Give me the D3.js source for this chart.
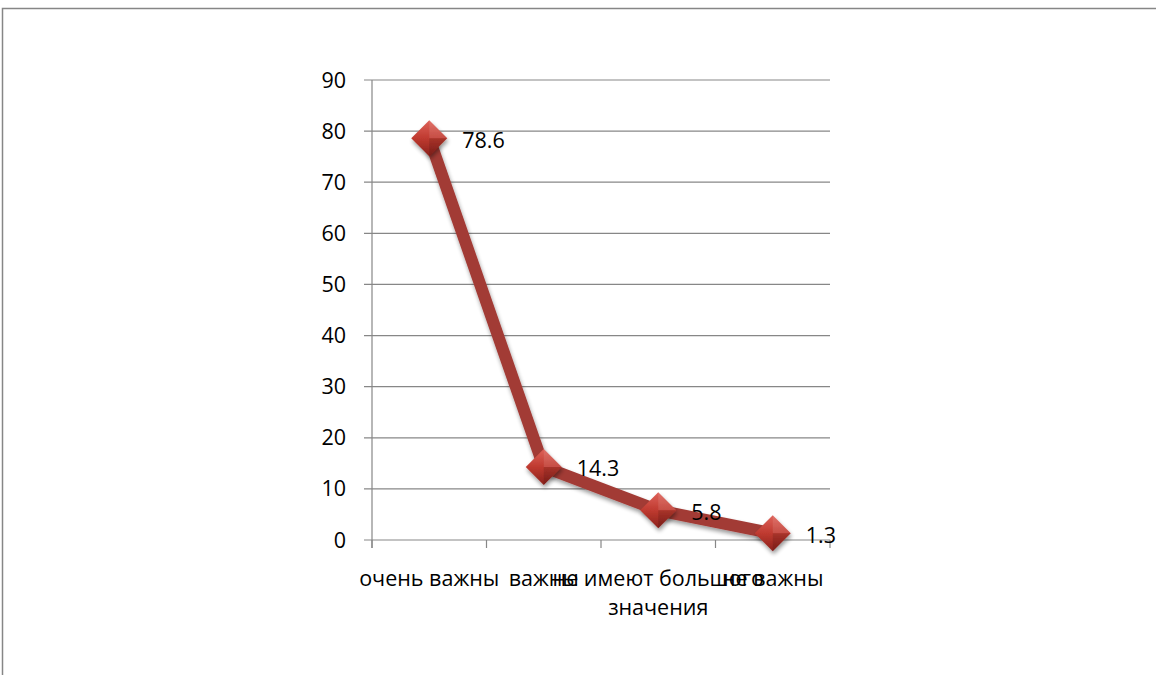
<!DOCTYPE html>
<html><head><meta charset="utf-8">
<script src="https://cdn.jsdelivr.net/npm/d3@7"></script>
<style>body{margin:0;background:#fff;}svg{display:block;}</style>
</head><body>
<script>
const categories = ["очень важны", "важны", "не имеют большого значения", "не важны"];
const values = [78.6, 14.3, 5.8, 1.3];
const yTicks = [0, 10, 20, 30, 40, 50, 60, 70, 80, 90];
const categoryLines = [["очень важны"], ["важны"], ["не имеют большого", "значения"], ["не важны"]];

(function () {
const W = 1156, H = 675;
const svg = d3.select("body").append("svg").attr("width", W).attr("height", H);
const font = "'Open Sans', 'Noto Sans', sans-serif";
const fs = 21.5;

// outer frame
svg.append("rect").attr("x", 2.5).attr("y", 8.5).attr("width", 1170).attr("height", 700)
  .attr("fill", "#fff").attr("stroke", "#868686").attr("stroke-width", 1.5);

const pL = 372, pR = 830, pT = 80, pB = 540;
const x = d3.scaleBand().domain(categories).range([pL, pR]).paddingInner(0).paddingOuter(0);
const y = d3.scaleLinear().domain([0, 90]).range([pB, pT]);

const defs = svg.append("defs");
const grad = defs.append("linearGradient").attr("id", "mk").attr("x1", "0").attr("y1", "0").attr("x2", "0").attr("y2", "1");
grad.append("stop").attr("offset", "0%").attr("stop-color", "#de6259");
grad.append("stop").attr("offset", "50%").attr("stop-color", "#bf3a30");
grad.append("stop").attr("offset", "100%").attr("stop-color", "#8a211b");
const flt = defs.append("filter").attr("id", "sh").attr("x", "-50%").attr("y", "-50%").attr("width", "200%").attr("height", "200%");
flt.append("feGaussianBlur").attr("in", "SourceAlpha").attr("stdDeviation", 2).attr("result", "b");
flt.append("feOffset").attr("in", "b").attr("dx", 1).attr("dy", 3).attr("result", "o");
flt.append("feComponentTransfer").attr("in", "o").attr("result", "oa").append("feFuncA").attr("type", "linear").attr("slope", 0.4);
const m = flt.append("feMerge"); m.append("feMergeNode").attr("in", "oa"); m.append("feMergeNode").attr("in", "SourceGraphic");

// gridlines
svg.append("g").selectAll("line").data(yTicks).join("line")
  .attr("x1", pL - 8).attr("x2", pR).attr("y1", d => y(d)).attr("y2", d => y(d))
  .attr("stroke", "#878787").attr("stroke-width", 1.2);

// y axis line
svg.append("line").attr("x1", pL).attr("x2", pL).attr("y1", pT).attr("y2", pB + 8)
  .attr("stroke", "#878787").attr("stroke-width", 1.2);

// x ticks
const xt = categories.map(c => x(c)).concat([pR]);
svg.append("g").selectAll("line").data(xt).join("line")
  .attr("x1", d => d).attr("x2", d => d).attr("y1", pB).attr("y2", pB + 8)
  .attr("stroke", "#878787").attr("stroke-width", 1.2);

// y labels
svg.append("g").selectAll("text").data(yTicks).join("text")
  .attr("x", 346).attr("y", d => y(d)).attr("dy", "0.35em").attr("text-anchor", "end")
  .attr("font-family", font).attr("font-size", fs).attr("fill", "#000").text(d => d);

// x labels
const cx = d => x(d) + x.bandwidth() / 2;
const xl = svg.append("g").selectAll("text").data(categories).join("text")
  .attr("text-anchor", "middle").attr("font-family", font).attr("font-size", fs).attr("fill", "#000")
  .attr("x", d => cx(d)).attr("y", 586);
xl.each(function (d, i) {
  const t = d3.select(this);
  categoryLines[i].forEach((ln, j) => {
    t.append("tspan").attr("x", cx(d)).attr("dy", j === 0 ? 0 : 29).text(ln);
  });
});

const pts = categories.map((c, i) => [cx(c), y(values[i])]);

// line
svg.append("path").datum(pts).attr("d", d3.line()).attr("fill", "none")
  .attr("stroke", "#a23b36").attr("stroke-width", 12).attr("stroke-linejoin", "round").attr("filter", "url(#sh)");

// markers
const s = 18;
const mk = svg.append("g").selectAll("g").data(pts).join("g")
  .attr("transform", d => `translate(${d[0]},${d[1]})`).attr("filter", "url(#sh)");
mk.append("path").attr("d", `M0,${-s}L${s},0L0,${s}L${-s},0Z`).attr("fill", "url(#mk)");
mk.append("path").attr("d", `M0,${-s}L${s},0L0,0Z`).attr("fill", "#ffffff").attr("opacity", 0.1);
mk.append("path").attr("d", `M0,${s}L${s},0L0,0Z`).attr("fill", "#000").attr("opacity", 0.12);

// data labels
svg.append("g").selectAll("text").data(values).join("text")
  .attr("x", (d, i) => pts[i][0] + 33).attr("y", (d, i) => pts[i][1] + 2).attr("dy", "0.35em")
  .attr("font-family", font).attr("font-size", fs).attr("fill", "#000").text(d => d);
})();
</script>
</body></html>
